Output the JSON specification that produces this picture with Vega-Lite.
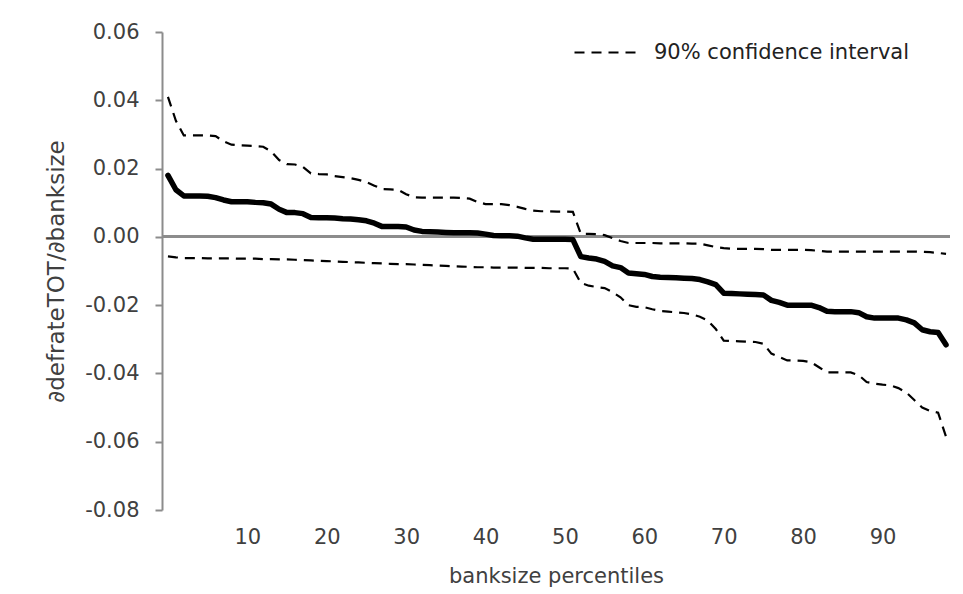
{
"$schema": "https://vega.github.io/schema/vega-lite/v6.json",
"width": 788, "height": 478,
"autosize": "none",
"padding": {"left": 162, "top": 32, "right": 13, "bottom": 84},
"background": "white",
"config": {"view": {"stroke": null}, "font": "DejaVu Sans",
  "locale": {"number": {"decimal": ".", "thousands": ",", "grouping": [3], "currency": ["$", ""], "minus": "-"}}},
"data": {"values": [
{"p":0,"est":0.0180,"upper":0.0410,"lower":-0.0057},
{"p":1,"est":0.0138,"upper":0.0340,"lower":-0.0060},
{"p":2,"est":0.0120,"upper":0.0297,"lower":-0.0062},
{"p":3,"est":0.0120,"upper":0.0297,"lower":-0.0062},
{"p":4,"est":0.0120,"upper":0.0297,"lower":-0.0062},
{"p":5,"est":0.0119,"upper":0.0297,"lower":-0.0063},
{"p":6,"est":0.0115,"upper":0.0295,"lower":-0.0063},
{"p":7,"est":0.0108,"upper":0.0280,"lower":-0.0063},
{"p":8,"est":0.0103,"upper":0.0270,"lower":-0.0063},
{"p":9,"est":0.0103,"upper":0.0268,"lower":-0.0064},
{"p":10,"est":0.0103,"upper":0.0267,"lower":-0.0064},
{"p":11,"est":0.0101,"upper":0.0266,"lower":-0.0064},
{"p":12,"est":0.0100,"upper":0.0264,"lower":-0.0065},
{"p":13,"est":0.0096,"upper":0.0250,"lower":-0.0065},
{"p":14,"est":0.0081,"upper":0.0225,"lower":-0.0066},
{"p":15,"est":0.0071,"upper":0.0213,"lower":-0.0066},
{"p":16,"est":0.0071,"upper":0.0212,"lower":-0.0067},
{"p":17,"est":0.0068,"upper":0.0205,"lower":-0.0068},
{"p":18,"est":0.0057,"upper":0.0186,"lower":-0.0069},
{"p":19,"est":0.0056,"upper":0.0184,"lower":-0.0070},
{"p":20,"est":0.0056,"upper":0.0183,"lower":-0.0071},
{"p":21,"est":0.0055,"upper":0.0178,"lower":-0.0072},
{"p":22,"est":0.0053,"upper":0.0175,"lower":-0.0073},
{"p":23,"est":0.0052,"upper":0.0172,"lower":-0.0074},
{"p":24,"est":0.0050,"upper":0.0167,"lower":-0.0075},
{"p":25,"est":0.0047,"upper":0.0160,"lower":-0.0076},
{"p":26,"est":0.0040,"upper":0.0150,"lower":-0.0077},
{"p":27,"est":0.0030,"upper":0.0140,"lower":-0.0078},
{"p":28,"est":0.0030,"upper":0.0139,"lower":-0.0079},
{"p":29,"est":0.0030,"upper":0.0138,"lower":-0.0080},
{"p":30,"est":0.0029,"upper":0.0125,"lower":-0.0080},
{"p":31,"est":0.0020,"upper":0.0116,"lower":-0.0081},
{"p":32,"est":0.0016,"upper":0.0115,"lower":-0.0082},
{"p":33,"est":0.0015,"upper":0.0115,"lower":-0.0083},
{"p":34,"est":0.0014,"upper":0.0115,"lower":-0.0084},
{"p":35,"est":0.0013,"upper":0.0115,"lower":-0.0085},
{"p":36,"est":0.0012,"upper":0.0115,"lower":-0.0086},
{"p":37,"est":0.0012,"upper":0.0114,"lower":-0.0087},
{"p":38,"est":0.0012,"upper":0.0112,"lower":-0.0088},
{"p":39,"est":0.0011,"upper":0.0102,"lower":-0.0089},
{"p":40,"est":0.0008,"upper":0.0096,"lower":-0.0089},
{"p":41,"est":0.0004,"upper":0.0096,"lower":-0.0090},
{"p":42,"est":0.0003,"upper":0.0096,"lower":-0.0090},
{"p":43,"est":0.0003,"upper":0.0093,"lower":-0.0090},
{"p":44,"est":0.0002,"upper":0.0088,"lower":-0.0090},
{"p":45,"est":-0.0003,"upper":0.0082,"lower":-0.0091},
{"p":46,"est":-0.0007,"upper":0.0077,"lower":-0.0091},
{"p":47,"est":-0.0007,"upper":0.0075,"lower":-0.0091},
{"p":48,"est":-0.0007,"upper":0.0075,"lower":-0.0092},
{"p":49,"est":-0.0007,"upper":0.0074,"lower":-0.0092},
{"p":50,"est":-0.0007,"upper":0.0074,"lower":-0.0092},
{"p":51,"est":-0.0008,"upper":0.0073,"lower":-0.0093},
{"p":52,"est":-0.0058,"upper":0.0009,"lower":-0.0135},
{"p":53,"est":-0.0062,"upper":0.0009,"lower":-0.0143},
{"p":54,"est":-0.0065,"upper":0.0008,"lower":-0.0147},
{"p":55,"est":-0.0072,"upper":0.0005,"lower":-0.0150},
{"p":56,"est":-0.0085,"upper":-0.0004,"lower":-0.0162},
{"p":57,"est":-0.0090,"upper":-0.0012,"lower":-0.0177},
{"p":58,"est":-0.0106,"upper":-0.0018,"lower":-0.0200},
{"p":59,"est":-0.0108,"upper":-0.0018,"lower":-0.0205},
{"p":60,"est":-0.0110,"upper":-0.0018,"lower":-0.0206},
{"p":61,"est":-0.0116,"upper":-0.0018,"lower":-0.0212},
{"p":62,"est":-0.0118,"upper":-0.0019,"lower":-0.0217},
{"p":63,"est":-0.0119,"upper":-0.0019,"lower":-0.0219},
{"p":64,"est":-0.0120,"upper":-0.0019,"lower":-0.0221},
{"p":65,"est":-0.0121,"upper":-0.0019,"lower":-0.0223},
{"p":66,"est":-0.0122,"upper":-0.0020,"lower":-0.0227},
{"p":67,"est":-0.0125,"upper":-0.0020,"lower":-0.0234},
{"p":68,"est":-0.0132,"upper":-0.0025,"lower":-0.0245},
{"p":69,"est":-0.0140,"upper":-0.0030,"lower":-0.0270},
{"p":70,"est":-0.0165,"upper":-0.0033,"lower":-0.0304},
{"p":71,"est":-0.0166,"upper":-0.0035,"lower":-0.0305},
{"p":72,"est":-0.0167,"upper":-0.0035,"lower":-0.0306},
{"p":73,"est":-0.0168,"upper":-0.0035,"lower":-0.0307},
{"p":74,"est":-0.0169,"upper":-0.0035,"lower":-0.0308},
{"p":75,"est":-0.0170,"upper":-0.0036,"lower":-0.0313},
{"p":76,"est":-0.0186,"upper":-0.0038,"lower":-0.0342},
{"p":77,"est":-0.0192,"upper":-0.0038,"lower":-0.0352},
{"p":78,"est":-0.0200,"upper":-0.0038,"lower":-0.0362},
{"p":79,"est":-0.0200,"upper":-0.0038,"lower":-0.0362},
{"p":80,"est":-0.0200,"upper":-0.0038,"lower":-0.0363},
{"p":81,"est":-0.0200,"upper":-0.0039,"lower":-0.0367},
{"p":82,"est":-0.0207,"upper":-0.0041,"lower":-0.0382},
{"p":83,"est":-0.0218,"upper":-0.0043,"lower":-0.0397},
{"p":84,"est":-0.0219,"upper":-0.0043,"lower":-0.0397},
{"p":85,"est":-0.0219,"upper":-0.0043,"lower":-0.0397},
{"p":86,"est":-0.0219,"upper":-0.0043,"lower":-0.0397},
{"p":87,"est":-0.0222,"upper":-0.0043,"lower":-0.0405},
{"p":88,"est":-0.0234,"upper":-0.0043,"lower":-0.0425},
{"p":89,"est":-0.0238,"upper":-0.0043,"lower":-0.0430},
{"p":90,"est":-0.0238,"upper":-0.0043,"lower":-0.0433},
{"p":91,"est":-0.0238,"upper":-0.0043,"lower":-0.0435},
{"p":92,"est":-0.0238,"upper":-0.0043,"lower":-0.0443},
{"p":93,"est":-0.0243,"upper":-0.0043,"lower":-0.0456},
{"p":94,"est":-0.0252,"upper":-0.0043,"lower":-0.0478},
{"p":95,"est":-0.0272,"upper":-0.0044,"lower":-0.0500},
{"p":96,"est":-0.0278,"upper":-0.0045,"lower":-0.0510},
{"p":97,"est":-0.0280,"upper":-0.0047,"lower":-0.0515},
{"p":98,"est":-0.0316,"upper":-0.0050,"lower":-0.0585}
]},
"layer": [
 {"mark": {"type": "rule", "color": "#8c8c8c", "strokeWidth": 2},
  "encoding": {"y": {"datum": 0, "type": "quantitative",
     "scale": {"domain": [-0.08, 0.06], "nice": false, "zero": false},
     "axis": {"values": [-0.08,-0.06,-0.04,-0.02,0,0.02,0.04,0.06], "format": ".2f", "grid": false,
       "tickSize": 7, "tickColor": "#8c8c8c", "tickWidth": 2, "domainColor": "#8c8c8c", "domainWidth": 2,
       "labelFontSize": 21, "labelColor": "#404040", "labelPadding": 16,
       "title": "∂defrateTOT/∂banksize", "titleFontSize": 23, "titleFontWeight": "normal", "titleColor": "#404040", "titlePadding": 16}}}},
 {"transform": [{"fold": ["upper", "lower"], "as": ["bound", "value"]}],
  "mark": {"type": "line", "color": "black", "strokeWidth": 2.2},
  "encoding": {
   "x": {"field": "p", "type": "quantitative", "scale": {"domain": [-0.75, 98.5], "nice": false, "zero": false},
     "axis": {"values": [10,20,30,40,50,60,70,80,90], "format": "d", "grid": false, "domain": false, "ticks": false, "tickSize": 0,
       "labelFontSize": 21, "labelColor": "#404040", "labelPadding": 16,
       "title": "banksize percentiles", "titleFontSize": 21, "titleFontWeight": "normal", "titleColor": "#404040", "titlePadding": 18}},
   "y": {"field": "value", "type": "quantitative",
     "axis": {"values": [-0.08,-0.06,-0.04,-0.02,0,0.02,0.04,0.06], "format": ".2f", "grid": false,
       "tickSize": 7, "tickColor": "#8c8c8c", "tickWidth": 2, "domainColor": "#8c8c8c", "domainWidth": 2,
       "labelFontSize": 21, "labelColor": "#404040", "labelPadding": 16,
       "title": "∂defrateTOT/∂banksize", "titleFontSize": 23, "titleFontWeight": "normal", "titleColor": "#404040", "titlePadding": 16}},
   "detail": {"field": "bound"},
   "strokeDash": {"datum": "90% confidence interval", "type": "nominal", "scale": {"range": [[10, 7]]},
     "legend": {"orient": "none", "legendX": 411, "legendY": -13, "title": null, "symbolType": "stroke", "symbolSize": 4096,
       "symbolStrokeWidth": 2.2, "symbolStrokeColor": "black", "labelFontSize": 21, "labelColor": "#222222", "labelOffset": 14, "labelLimit": 400, "padding": 0}}
  }},
 {"mark": {"type": "line", "color": "black", "strokeWidth": 5.5, "strokeJoin": "round", "strokeCap": "round"},
  "encoding": {
   "x": {"field": "p", "type": "quantitative",
     "axis": {"values": [10,20,30,40,50,60,70,80,90], "format": "d", "grid": false, "domain": false, "ticks": false, "tickSize": 0,
       "labelFontSize": 21, "labelColor": "#404040", "labelPadding": 16,
       "title": "banksize percentiles", "titleFontSize": 21, "titleFontWeight": "normal", "titleColor": "#404040", "titlePadding": 18}},
   "y": {"field": "est", "type": "quantitative",
     "axis": {"values": [-0.08,-0.06,-0.04,-0.02,0,0.02,0.04,0.06], "format": ".2f", "grid": false,
       "tickSize": 7, "tickColor": "#8c8c8c", "tickWidth": 2, "domainColor": "#8c8c8c", "domainWidth": 2,
       "labelFontSize": 21, "labelColor": "#404040", "labelPadding": 16,
       "title": "∂defrateTOT/∂banksize", "titleFontSize": 23, "titleFontWeight": "normal", "titleColor": "#404040", "titlePadding": 16}}
  }}
]
}
